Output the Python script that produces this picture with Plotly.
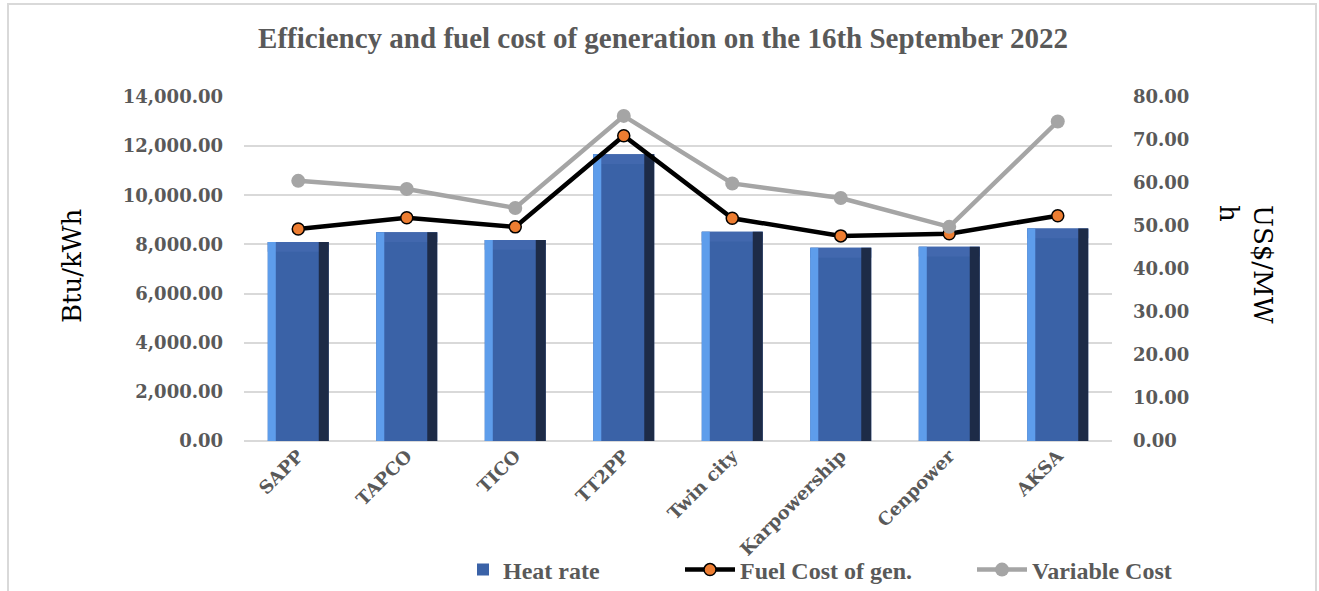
import plotly.graph_objects as go

stations = ["SAPP", "TAPCO", "TICO", "TT2PP", "Twin city", "Karpowership", "Cenpower", "AKSA"]
heat_rate = [8100, 8500, 8180, 11670, 8520, 7860, 7910, 8650]
fuel_cost = [49.3, 51.9, 49.8, 71.0, 51.8, 47.7, 48.2, 52.4]
variable_cost = [60.5, 58.6, 54.2, 75.6, 59.9, 56.5, 49.8, 74.3]

left_ticks = [0, 2000, 4000, 6000, 8000, 10000, 12000, 14000]
right_ticks = [0, 10, 20, 30, 40, 50, 60, 70, 80]

W, H = 1319, 591
L, R, T, B = 244, 1112, 97, 441
pw, ph = R - L, B - T

def px(x):
    return (x - L) / pw

def py(y):
    return (B - y) / ph

GREY = "#595959"
serif_b = dict(family="DejaVu Serif", size=18, color=GREY, weight="bold")
leg_font = dict(family="Liberation Serif", size=24, color=GREY, weight="bold")

bw = 0.562
fig = go.Figure()
fig.add_trace(go.Bar(x=stations, y=heat_rate, name="Heat rate", width=bw, offset=-bw / 2,
                     marker=dict(color="#3A62A7", line=dict(width=0)), yaxis="y", legend="legend"))
# top bevel
bev = 400
fig.add_trace(go.Bar(x=stations, y=[bev] * len(heat_rate), base=[h - bev for h in heat_rate],
                     width=bw, offset=-bw / 2, marker=dict(color="#4268AE", line=dict(width=0)),
                     showlegend=False, hoverinfo="skip"))
# left highlight
fig.add_trace(go.Bar(x=stations, y=heat_rate, width=0.074, offset=-bw / 2,
                     marker=dict(color="#5E9DEB", line=dict(width=0)), showlegend=False, hoverinfo="skip"))
# right shade
fig.add_trace(go.Bar(x=stations, y=heat_rate, width=0.092, offset=bw / 2 - 0.092,
                     marker=dict(color="#1D2B47", line=dict(width=0)), showlegend=False, hoverinfo="skip"))

fig.add_trace(go.Scatter(x=stations, y=fuel_cost, name="Fuel Cost of gen.", yaxis="y2", mode="lines+markers",
                         line=dict(color="black", width=4.5),
                         marker=dict(size=12, color="#ED7D31", line=dict(color="black", width=1.5)),
                         legend="legend2"))
fig.add_trace(go.Scatter(x=stations, y=variable_cost, name="Variable Cost", yaxis="y2", mode="lines+markers",
                         line=dict(color="#A5A5A5", width=4.5),
                         marker=dict(size=14, color="#A5A5A5"),
                         legend="legend3"))

def leg(xpix, iw):
    return dict(orientation="h", x=px(xpix), xanchor="left", y=py(570), yanchor="middle",
                font=leg_font, bgcolor="rgba(0,0,0,0)", itemwidth=iw)

fig.update_layout(
    width=W, height=H,
    margin=dict(l=L, r=W - R, t=T, b=H - B, autoexpand=False),
    paper_bgcolor="white", plot_bgcolor="white",
    barmode="overlay",
    title=dict(text="Efficiency and fuel cost of generation on the 16th September 2022",
               x=663 / W, xanchor="center", y=1 - 38 / H, yanchor="middle", yref="container",
               font=dict(family="Liberation Serif", size=29, color=GREY, weight="bold")),
    xaxis=dict(type="category", tickangle=-45, tickfont=serif_b, showgrid=False, showline=False,
               ticks="", range=[-0.5, len(stations) - 0.5], automargin=False),
    yaxis=dict(range=[0, 14000], tickvals=left_ticks, tickformat=",.2f", tickfont=serif_b,
               gridcolor="#D9D9D9", gridwidth=1.5, zeroline=True, zerolinecolor="#D9D9D9",
               zerolinewidth=1.5, showline=False, ticklabelstandoff=20, automargin=False),
    yaxis2=dict(range=[0, 80], tickvals=right_ticks, tickformat=".2f", tickfont=serif_b,
                overlaying="y", side="right", showgrid=False, zeroline=False, showline=False,
                ticklabelstandoff=20, automargin=False),
    legend=leg(463, 30),
    legend2=leg(680, 50),
    legend3=leg(972, 50),
    showlegend=True,
    annotations=[
        dict(text="Btu/kWh", xref="paper", yref="paper", x=px(55), y=py(266), textangle=-90,
             showarrow=False, font=dict(family="DejaVu Serif", size=26, color="black")),
        dict(text="US$/MW<br>h", xref="paper", yref="paper", x=px(1280), y=py(264), textangle=90,
             align="left", showarrow=False, font=dict(family="DejaVu Serif", size=26, color="black")),
    ],
    shapes=[dict(type="rect", xref="paper", yref="paper", x0=px(8), x1=px(1316), y0=py(620), y1=py(4),
                 line=dict(color="#D9D9D9", width=2), layer="below")],
)

fig.write_html("out.html", config={"displayModeBar": False},
               post_script="document.body.style.margin='0';document.body.style.overflow='hidden';")
